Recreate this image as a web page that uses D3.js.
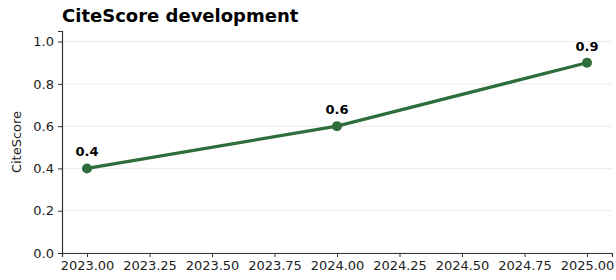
<!DOCTYPE html>
<html>
<head>
<meta charset="utf-8">
<script src="https://cdn.jsdelivr.net/npm/d3@7"></script>
<style>
  body { margin: 0; background: #fff; }
  text { font-family: "DejaVu Sans", sans-serif; }
</style>
</head>
<body>
<div id="chart"></div>
<script>
// datos del grafico
const years = [2023, 2024, 2025];
const citeScores = [0.4, 0.6, 0.9];
const xTicks = [2023.00, 2023.25, 2023.50, 2023.75, 2024.00, 2024.25, 2024.50, 2024.75, 2025.00];
const yTicks = [0.0, 0.2, 0.4, 0.6, 0.8, 1.0];

const margin = { top: 31, right: 4, bottom: 27, left: 62 },
    width = 616 - margin.left - margin.right,
    height = 280 - margin.top - margin.bottom;

const color = "#2e6e3d";

const root = d3.select("#chart")
    .append("svg")
    .attr("width", 616)
    .attr("height", 280);

root.append("text")
    .attr("x", 62)
    .attr("y", 22)
    .attr("font-size", 18)
    .attr("font-weight", "bold")
    .text("CiteScore development");

const svg = root.append("g")
    .attr("transform", "translate(" + margin.left + "," + margin.top + ")");

const x = d3.scaleLinear()
    .domain([2022.9, 2025.1])
    .range([0, width]);

const y = d3.scaleLinear()
    .domain([0, 1.05])
    .range([height, 0]);

// lineas de la cuadricula
svg.append("g")
    .selectAll("line")
    .data(yTicks)
    .enter()
    .append("line")
    .attr("x1", 0)
    .attr("x2", width)
    .attr("y1", d => y(d))
    .attr("y2", d => y(d))
    .attr("stroke", "#ebebeb")
    .attr("stroke-width", 1);

const xAxis = svg.append("g")
    .attr("transform", "translate(0," + height + ")")
    .call(d3.axisBottom(x).tickValues(xTicks).tickFormat(d3.format(".2f")).tickSizeOuter(0).tickSize(4).tickPadding(4));

const yAxis = svg.append("g")
    .call(d3.axisLeft(y).tickValues(yTicks).tickFormat(d3.format(".1f")).tickSizeOuter(0).tickSize(4).tickPadding(4));

[xAxis, yAxis].forEach(a => {
    a.selectAll("text").attr("font-size", 13).attr("fill", "#222").attr("font-family", "DejaVu Sans, sans-serif");
    a.selectAll("line").attr("stroke", "#333");
    a.select(".domain").attr("stroke", "#333").attr("stroke-width", 1.2);
});

root.append("text")
    .attr("transform", "translate(21," + (margin.top + height / 2) + ") rotate(-90)")
    .attr("text-anchor", "middle")
    .attr("font-size", 13)
    .attr("fill", "#222")
    .text("CiteScore");

svg.append("path")
    .datum(years)
    .attr("fill", "none")
    .attr("stroke", color)
    .attr("stroke-width", 3.2)
    .attr("d", d3.line()
        .x(d => x(d))
        .y((d, i) => y(citeScores[i]))
    );

svg.selectAll("circle")
    .data(years)
    .enter()
    .append("circle")
    .attr("cx", d => x(d))
    .attr("cy", (d, i) => y(citeScores[i]))
    .attr("r", 5)
    .attr("fill", color);

svg.selectAll(".etiqueta")
    .data(years)
    .enter()
    .append("text")
    .attr("class", "etiqueta")
    .attr("x", d => x(d))
    .attr("y", (d, i) => y(citeScores[i]) - 12)
    .attr("text-anchor", "middle")
    .attr("font-size", 13)
    .attr("font-weight", "bold")
    .text((d, i) => citeScores[i].toFixed(1));
</script>
</body>
</html>
